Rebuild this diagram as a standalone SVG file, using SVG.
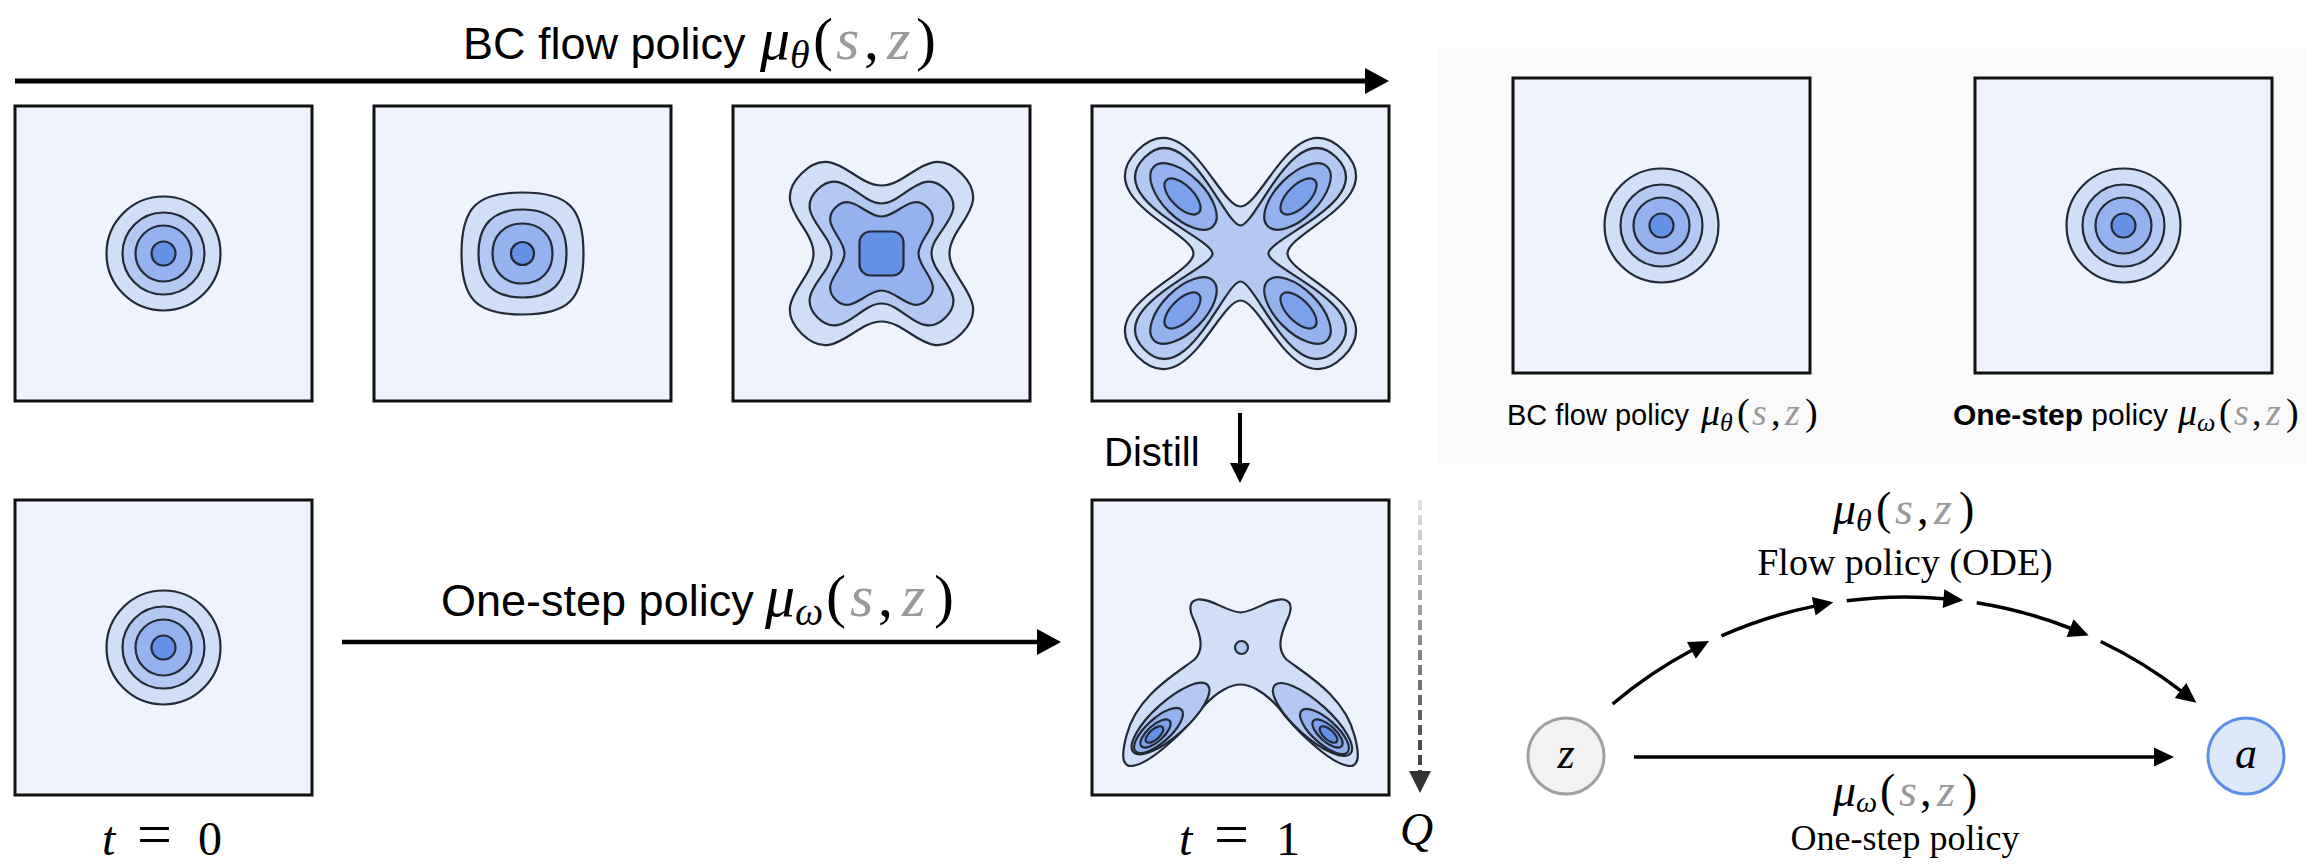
<svg xmlns="http://www.w3.org/2000/svg" xmlns:xlink="http://www.w3.org/1999/xlink" width="2306" height="866" viewBox="0 0 2306 866">
<defs>
<style>
.box{fill:#eef3fc;stroke:#111;stroke-width:3}
.c{stroke:#222a36;stroke-width:2.2}
.l1{fill:#d1def7}.l2{fill:#b3c8f2}.l3{fill:#94b2ee}.l4{fill:#7aa1ea}.l5{fill:#6291e6}
.sans{font-family:"Liberation Sans",Arial,sans-serif;fill:#000}
.serif{font-family:"Liberation Serif","Times New Roman",serif;fill:#000}
.it{font-style:italic}
.gray{fill:#9a9a9a}
.conn{stroke:#000;fill:none}
</style>
<marker id="ahL" markerUnits="userSpaceOnUse" markerWidth="24" markerHeight="26" refX="1" refY="13" orient="auto" overflow="visible"><path d="M0,0 L24,13 L0,26 Z" fill="#000"/></marker>
<marker id="ahM" markerUnits="userSpaceOnUse" markerWidth="20" markerHeight="20" refX="1" refY="10" orient="auto" overflow="visible"><path d="M0,0 L20,10 L0,20 Z" fill="#000"/></marker>
<marker id="ahS" markerUnits="userSpaceOnUse" markerWidth="20" markerHeight="19" refX="1" refY="9.5" orient="auto" overflow="visible"><path d="M0,0 L20,9.5 L0,19 Z" fill="#000"/></marker>
<marker id="ahQ" markerUnits="userSpaceOnUse" markerWidth="22" markerHeight="22" refX="1" refY="11" orient="auto" overflow="visible"><path d="M0,0 L22,11 L0,22 Z" fill="#333"/></marker>
<linearGradient id="qgrad" gradientUnits="userSpaceOnUse" x1="0" y1="500" x2="0" y2="775"><stop offset="0" stop-color="#e2e2e2"/><stop offset="1" stop-color="#3a3a3a"/></linearGradient>
<g id="gauss"><circle r="57" class="l1 c"/><circle r="41" class="l2 c"/><circle r="28" class="l3 c"/><circle r="12" class="l5 c"/></g>
</defs>
<rect width="2306" height="866" fill="#fff"/>
<rect x="1438" y="48" width="868" height="416" fill="#fafafa"/>

<g id="box1"><rect class="box" x="15" y="106" width="297" height="295"/><use xlink:href="#gauss" x="163.5" y="253.5"/></g>

<g id="box2"><rect class="box" x="374" y="106" width="297" height="295"/>
<g transform="translate(522.5,253.5)">
<path class="l1 c" d="M0,-61 C46,-61 61,-46 61,0 C61,46 46,61 0,61 C-46,61 -61,46 -61,0 C-61,-46 -46,-61 0,-61 Z"/>
<path class="l2 c" d="M0,-44 C29,-44 44,-29 44,0 C44,29 29,44 0,44 C-29,44 -44,29 -44,0 C-44,-29 -29,-44 0,-44 Z"/>
<path class="l3 c" d="M0,-30 C18,-30 30,-18 30,0 C30,18 18,30 0,30 C-18,30 -30,18 -30,0 C-30,-18 -18,-30 0,-30 Z"/>
<circle r="11.5" class="l5 c"/>
</g></g>

<g id="box3"><rect class="box" x="733" y="106" width="297" height="295"/>
<g transform="translate(881.5,253.5)">
<path class="l1 c" d="M68,0 C68,-28 112,-48 80,-80 C48,-112 28,-68 0,-68 C-28,-68 -48,-112 -80,-80 C-112,-48 -68,-28 -68,0 C-68,28 -112,48 -80,80 C-48,112 -28,68 0,68 C28,68 48,112 80,80 C112,48 68,28 68,0 Z"/>
<path class="l2 c" d="M50,0 C50,-22 88,-40 64,-64 C40,-88 22,-50 0,-50 C-22,-50 -40,-88 -64,-64 C-88,-40 -50,-22 -50,0 C-50,22 -88,40 -64,64 C-40,88 -22,50 0,50 C22,50 40,88 64,64 C88,40 50,22 50,0 Z"/>
<path class="l3 c" d="M37,0 C37,-16 62,-30 46,-46 C30,-62 16,-37 0,-37 C-16,-37 -30,-62 -46,-46 C-62,-30 -37,-16 -37,0 C-37,16 -62,30 -46,46 C-30,62 -16,37 0,37 C16,37 30,62 46,46 C62,30 37,16 37,0 Z"/>
<rect class="l5 c" x="-22" y="-22" width="44" height="44" rx="11"/>
</g></g>

<g id="box4"><rect class="box" x="1092" y="106" width="297" height="295"/>
<g transform="translate(1240.5,253.5)">
<path class="l1 c" d="M0,-47 C22,-47 55,-151 103,-103 C151,-55 47,-22 47,0 C47,22 151,55 103,103 C55,151 22,47 0,47 C-22,47 -55,151 -103,103 C-151,55 -47,22 -47,0 C-47,-22 -151,-55 -103,-103 C-55,-151 -22,-47 0,-47 Z"/>
<path class="l2 c" d="M0,-28 C16,-28 54,-138 96,-96 C138,-54 28,-16 28,0 C28,16 138,54 96,96 C54,138 16,28 0,28 C-16,28 -54,138 -96,96 C-138,54 -28,16 -28,0 C-28,-16 -138,-54 -96,-96 C-54,-138 -16,-28 0,-28 Z"/>
<ellipse class="l3 c" cx="-57" cy="-57" rx="42" ry="21" transform="rotate(45 -57 -57)"/>
<ellipse class="l3 c" cx="57" cy="-57" rx="42" ry="21" transform="rotate(-45 57 -57)"/>
<ellipse class="l3 c" cx="-57" cy="57" rx="42" ry="21" transform="rotate(-45 -57 57)"/>
<ellipse class="l3 c" cx="57" cy="57" rx="42" ry="21" transform="rotate(45 57 57)"/>
<ellipse class="l4 c" cx="-58" cy="-57" rx="23" ry="11" transform="rotate(45 -58 -57)"/>
<ellipse class="l4 c" cx="58" cy="-57" rx="23" ry="11" transform="rotate(-45 58 -57)"/>
<ellipse class="l4 c" cx="-58" cy="57" rx="23" ry="11" transform="rotate(-45 -58 57)"/>
<ellipse class="l4 c" cx="58" cy="57" rx="23" ry="11" transform="rotate(45 58 57)"/>
</g></g>

<g id="box5"><rect class="box" x="15" y="500" width="297" height="295"/><use xlink:href="#gauss" x="163.5" y="647.5"/></g>

<g id="box6"><rect class="box" x="1092" y="500" width="297" height="295"/>
<g transform="translate(1240.5,647.5)">
<path class="l1 c" d="M0,-35 C15,-36 30,-50 43,-48 C54,-46 50,-34 46,-26 C40,-12 36,2 46,12 C64,26 104,48 114,88 C120,110 118,121 106,118 C88,114 56,84 38,60 C22,42 8,37 0,37 C-8,37 -22,42 -38,60 C-56,84 -88,114 -106,118 C-118,121 -120,110 -114,88 C-104,48 -64,26 -46,12 C-36,2 -40,-12 -46,-26 C-50,-34 -54,-46 -43,-48 C-30,-50 -15,-36 0,-35 Z"/>
<circle class="l2 c" cx="1" cy="0" r="6.5"/>
<ellipse class="l2 c" cx="-70" cy="71" rx="50" ry="17" transform="rotate(-42 -70 71)"/>
<ellipse class="l3 c" cx="-82" cy="83" rx="31" ry="12" transform="rotate(-42 -82 83)"/>
<ellipse class="l4 c" cx="-85" cy="86" rx="19" ry="8" transform="rotate(-42 -85 86)"/>
<ellipse class="l5 c" cx="-86" cy="87" rx="11" ry="5" transform="rotate(-42 -86 87)"/>
<ellipse class="l2 c" cx="72" cy="72" rx="51" ry="17" transform="rotate(42 72 72)"/>
<ellipse class="l3 c" cx="84" cy="84" rx="31" ry="12" transform="rotate(42 84 84)"/>
<ellipse class="l4 c" cx="87" cy="86" rx="19" ry="8" transform="rotate(42 87 86)"/>
<ellipse class="l5 c" cx="88" cy="87" rx="11" ry="5" transform="rotate(42 88 87)"/>
</g></g>

<g id="box7"><rect class="box" x="1513" y="78" width="297" height="295"/><use xlink:href="#gauss" x="1661.5" y="225.5"/></g>
<g id="box8"><rect class="box" x="1975" y="78" width="297" height="295"/><use xlink:href="#gauss" x="2123.5" y="225.5"/></g>

<g id="node-z"><circle cx="1566" cy="756" r="38" fill="#f2f2f2" stroke="#a0a0a0" stroke-width="3"/><text class="serif it" x="1566" y="768" font-size="44" text-anchor="middle">z</text></g>
<g id="node-a"><circle cx="2246" cy="756" r="38" fill="#dde8fb" stroke="#5b8ee6" stroke-width="3"/><text class="serif it" x="2246" y="768" font-size="44" text-anchor="middle">a</text></g>

<g id="labels">
<text class="sans" font-size="45" y="59"><tspan x="463">BC flow policy</tspan><tspan class="serif it" x="760" font-size="60">μ</tspan><tspan class="serif it" x="790" y="68" font-size="40">θ</tspan><tspan class="serif" x="813" y="59" font-size="60">(</tspan><tspan class="serif it gray" x="836" font-size="60">s</tspan><tspan class="serif" x="864" font-size="60">,</tspan><tspan class="serif it gray" x="887" font-size="60">z</tspan><tspan class="serif" x="916" font-size="60">)</tspan></text>

<text class="sans" font-size="45" y="616"><tspan x="441">One-step policy</tspan><tspan class="serif it" x="765" font-size="60">μ</tspan><tspan class="serif it" x="795" y="625" font-size="40">ω</tspan><tspan class="serif" x="826" y="616" font-size="60">(</tspan><tspan class="serif it gray" x="850" font-size="60">s</tspan><tspan class="serif" x="878" font-size="60">,</tspan><tspan class="serif it gray" x="902" font-size="60">z</tspan><tspan class="serif" x="934" font-size="60">)</tspan></text>

<text class="sans" font-size="29" y="425"><tspan x="1507">BC flow policy</tspan><tspan class="serif it" x="1701" font-size="38">μ</tspan><tspan class="serif it" x="1720" y="431" font-size="26">θ</tspan><tspan class="serif" x="1737" y="425" font-size="38">(</tspan><tspan class="serif it gray" x="1752" font-size="38">s</tspan><tspan class="serif" x="1771" font-size="38">,</tspan><tspan class="serif it gray" x="1785" font-size="38">z</tspan><tspan class="serif" x="1805" font-size="38">)</tspan></text>

<text class="sans" font-size="30" y="425"><tspan x="1953" font-weight="bold">One-step</tspan><tspan> policy</tspan><tspan class="serif it" x="2178" font-size="38">μ</tspan><tspan class="serif it" x="2197" y="431" font-size="26">ω</tspan><tspan class="serif" x="2219" y="425" font-size="38">(</tspan><tspan class="serif it gray" x="2234" font-size="38">s</tspan><tspan class="serif" x="2252" font-size="38">,</tspan><tspan class="serif it gray" x="2266" font-size="38">z</tspan><tspan class="serif" x="2286" font-size="38">)</tspan></text>

<text class="sans" font-size="40" x="1104" y="466">Distill</text>

<text class="serif" font-size="48" y="855"><tspan class="it" x="102">t</tspan><tspan x="137" font-size="62">=</tspan><tspan x="198">0</tspan></text>
<text class="serif" font-size="48" y="855"><tspan class="it" x="1179">t</tspan><tspan x="1214" font-size="62">=</tspan><tspan x="1276">1</tspan></text>
<text class="serif it" font-size="46" x="1400" y="845">Q</text>

<text class="serif" font-size="46" y="524"><tspan class="it" x="1833">μ</tspan><tspan class="it" x="1856" y="531" font-size="32">θ</tspan><tspan x="1876" y="524">(</tspan><tspan class="it gray" x="1895">s</tspan><tspan x="1917">,</tspan><tspan class="it gray" x="1934">z</tspan><tspan x="1959">)</tspan></text>
<text class="serif" font-size="38" x="1905" y="575" text-anchor="middle">Flow policy (ODE)</text>
<text class="serif" font-size="46" y="806"><tspan class="it" x="1833">μ</tspan><tspan class="it" x="1856" y="812" font-size="30">ω</tspan><tspan x="1880" y="806">(</tspan><tspan class="it gray" x="1899">s</tspan><tspan x="1920">,</tspan><tspan class="it gray" x="1937">z</tspan><tspan x="1962">)</tspan></text>
<text class="serif" font-size="36" x="1905" y="850" text-anchor="middle">One-step policy</text>
</g>

<g id="connectors">
<line class="conn" x1="15" y1="81" x2="1366" y2="81" stroke-width="5" marker-end="url(#ahL)"/>
<line class="conn" x1="342" y1="642" x2="1038" y2="642" stroke-width="4.5" marker-end="url(#ahL)"/>
<line class="conn" x1="1240" y1="413" x2="1240" y2="464" stroke-width="4" marker-end="url(#ahM)"/>
<line x1="1420" y1="500" x2="1420" y2="772" stroke="url(#qgrad)" stroke-width="4" stroke-dasharray="10 5" marker-end="url(#ahQ)"/>
<line class="conn" x1="1634" y1="757" x2="2155" y2="757" stroke-width="3.5" marker-end="url(#ahS)"/>
<path class="conn" stroke-width="3.5" d="M1612.6,704 A453,453 0 0 1 1692.3,650" marker-end="url(#ahS)"/>
<path class="conn" stroke-width="3.5" d="M1721.5,635.8 A453,453 0 0 1 1814.7,606.1" marker-end="url(#ahS)"/>
<path class="conn" stroke-width="3.5" d="M1846.7,600.8 A453,453 0 0 1 1944.5,598.7" marker-end="url(#ahS)"/>
<path class="conn" stroke-width="3.5" d="M1976.7,602.7 A453,453 0 0 1 2071,628.5" marker-end="url(#ahS)"/>
<path class="conn" stroke-width="3.5" d="M2100.7,641.5 A453,453 0 0 1 2181.3,691.1" marker-end="url(#ahS)"/>
</g>
</svg>
